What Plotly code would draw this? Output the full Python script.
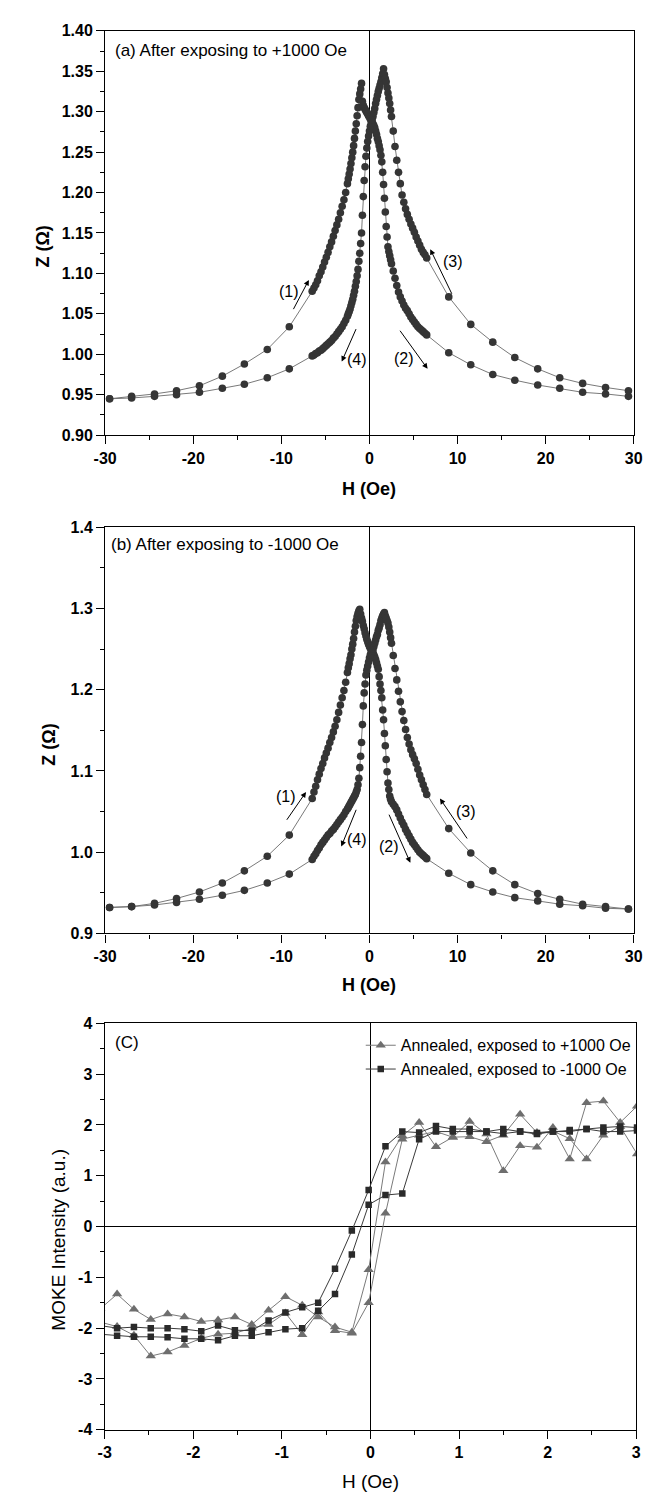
import plotly.graph_objects as go

# ---------------- data: panels (a) and (b) ----------------
H_Z = [-29.5, -27.0, -24.4, -21.9, -19.3, -16.7, -14.2, -11.6, -9.1,
       -6.5, -6.3, -6.1, -5.9, -5.7, -5.5, -5.3, -5.1, -4.9, -4.7, -4.5, -4.3, -4.1, -3.9, -3.7, -3.5, -3.3, -3.1, -2.9, -2.7,
       -2.5, -2.4, -2.3, -2.2, -2.1, -2.0, -1.9, -1.8, -1.7, -1.6, -1.5, -1.4, -1.3, -1.2, -1.1, -1.0, -0.9, -0.8, -0.7, -0.6,
       -0.5, -0.4, -0.3, -0.2, -0.1, 0.0, 0.1, 0.2, 0.3, 0.4, 0.5, 0.6, 0.7, 0.8, 0.9, 1.0, 1.1, 1.2, 1.3, 1.4,
       1.5, 1.6, 1.7, 1.8, 1.9, 2.0, 2.1, 2.2, 2.3, 2.4, 2.5,
       2.7, 2.9, 3.1, 3.3, 3.5, 3.7, 3.9, 4.1, 4.3, 4.5, 4.7, 4.9, 5.1, 5.3, 5.5, 5.7, 5.9, 6.1, 6.3, 6.5,
       9.0, 11.5, 14.0, 16.5, 19.1, 21.6, 24.2, 26.8, 29.4]

# (a) sweep -30 -> +30 : branches (1) and (2)
Z_A_UP = [0.945, 0.948, 0.951, 0.955, 0.961, 0.973, 0.988, 1.006, 1.034,
          1.078, 1.082, 1.086, 1.091, 1.097, 1.102, 1.108, 1.114, 1.120, 1.126, 1.133, 1.139, 1.146, 1.153, 1.160, 1.167, 1.175, 1.183, 1.191, 1.200,
          1.211, 1.217, 1.223, 1.229, 1.236, 1.243, 1.250, 1.258, 1.267, 1.276, 1.285, 1.295, 1.305, 1.315, 1.322, 1.328, 1.335, 1.313, 1.308, 1.305,
          1.303, 1.301, 1.299, 1.297, 1.295, 1.293, 1.291, 1.289, 1.287, 1.285, 1.283, 1.280, 1.276, 1.272, 1.267, 1.263, 1.258, 1.253, 1.246, 1.238,
          1.225, 1.210, 1.193, 1.176, 1.158, 1.145, 1.133, 1.127, 1.122, 1.117, 1.112,
          1.103, 1.094, 1.085, 1.077, 1.071, 1.066, 1.061, 1.057, 1.054, 1.050, 1.046, 1.043, 1.040, 1.037, 1.034, 1.032, 1.030, 1.028, 1.026, 1.024,
          1.002, 0.987, 0.975, 0.968, 0.962, 0.958, 0.953, 0.951, 0.948]

# (a) sweep +30 -> -30 : branches (3) and (4)
Z_A_DN = [0.945, 0.946, 0.948, 0.950, 0.953, 0.958, 0.963, 0.971, 0.982,
          0.998, 0.999, 1.001, 1.002, 1.004, 1.005, 1.007, 1.009, 1.011, 1.013, 1.015, 1.017, 1.020, 1.022, 1.025, 1.028, 1.031, 1.034, 1.038, 1.042,
          1.047, 1.050, 1.053, 1.056, 1.060, 1.064, 1.068, 1.073, 1.078, 1.084, 1.090, 1.097, 1.105, 1.115, 1.125, 1.137, 1.150, 1.172, 1.195, 1.215,
          1.232, 1.245, 1.255, 1.263, 1.270, 1.276, 1.282, 1.286, 1.290, 1.294, 1.299, 1.304, 1.310, 1.315, 1.320, 1.325, 1.329, 1.333, 1.337, 1.342,
          1.347, 1.353, 1.346, 1.341, 1.337, 1.330, 1.323, 1.317, 1.310, 1.302, 1.294,
          1.276, 1.257, 1.240, 1.225, 1.211, 1.197, 1.188, 1.180, 1.173, 1.167, 1.161, 1.156, 1.151, 1.145, 1.140, 1.135, 1.130, 1.126, 1.123, 1.119,
          1.071, 1.037, 1.015, 0.996, 0.982, 0.971, 0.964, 0.959, 0.955]

# (b) sweep -30 -> +30
Z_B_UP = [0.932, 0.933, 0.937, 0.943, 0.951, 0.962, 0.977, 0.995, 1.021,
          1.066, 1.074, 1.081, 1.089, 1.096, 1.103, 1.109, 1.116, 1.122, 1.128, 1.135, 1.141, 1.148, 1.155, 1.163, 1.172, 1.181, 1.190, 1.199, 1.209,
          1.221, 1.227, 1.232, 1.238, 1.243, 1.250, 1.256, 1.263, 1.271, 1.278, 1.285, 1.290, 1.294, 1.297, 1.299, 1.293, 1.288, 1.284, 1.279, 1.275,
          1.270, 1.266, 1.262, 1.259, 1.256, 1.253, 1.251, 1.249, 1.248, 1.246, 1.243, 1.240, 1.237, 1.233, 1.229, 1.225, 1.216, 1.207, 1.199, 1.190,
          1.175, 1.163, 1.146, 1.131, 1.114, 1.099, 1.085, 1.077, 1.069, 1.065, 1.062,
          1.059, 1.056, 1.052, 1.047, 1.042, 1.037, 1.033, 1.028, 1.024, 1.020, 1.016, 1.012, 1.009, 1.006, 1.003, 1.000, 0.998, 0.996, 0.994, 0.992,
          0.974, 0.960, 0.951, 0.944, 0.940, 0.936, 0.934, 0.931, 0.930]

# (b) sweep +30 -> -30
Z_B_DN = [0.932, 0.933, 0.935, 0.938, 0.942, 0.947, 0.953, 0.962, 0.973,
          0.991, 0.995, 0.998, 1.002, 1.005, 1.009, 1.012, 1.015, 1.018, 1.021, 1.023, 1.026, 1.028, 1.031, 1.034, 1.037, 1.040, 1.043, 1.046, 1.050,
          1.053, 1.055, 1.057, 1.059, 1.061, 1.063, 1.065, 1.067, 1.069, 1.071, 1.074, 1.077, 1.083, 1.091, 1.104, 1.118, 1.135, 1.157, 1.180, 1.196,
          1.207, 1.218, 1.224, 1.229, 1.234, 1.239, 1.243, 1.246, 1.248, 1.250, 1.253, 1.257, 1.261, 1.265, 1.268, 1.273, 1.276, 1.280, 1.285, 1.288,
          1.291, 1.293, 1.295, 1.291, 1.288, 1.285, 1.282, 1.277, 1.271, 1.264, 1.257,
          1.242, 1.226, 1.212, 1.198, 1.185, 1.173, 1.162, 1.151, 1.141, 1.133, 1.126, 1.120, 1.115, 1.109, 1.102, 1.095, 1.089, 1.083, 1.077, 1.071,
          1.029, 0.999, 0.977, 0.960, 0.949, 0.942, 0.936, 0.933, 0.930]

# ---------------- data: panel (c) ----------------
H_M = [-3.05, -2.86, -2.67, -2.48, -2.29, -2.10, -1.91, -1.72, -1.53, -1.34, -1.15, -0.96, -0.77, -0.59, -0.40, -0.21, -0.02,
       0.17, 0.36, 0.55, 0.74, 0.93, 1.12, 1.31, 1.50, 1.69, 1.88, 2.06, 2.25, 2.44, 2.63, 2.82, 3.01]
TRI_A = [-1.62, -1.33, -1.63, -1.83, -1.72, -1.78, -1.87, -1.84, -1.78, -1.93, -1.65, -1.38, -1.55, -1.78, -1.98, -2.08, -0.85,
         1.27, 1.79, 2.05, 1.57, 1.76, 2.07, 1.82, 1.10, 1.59, 1.56, 1.95, 1.33, 2.44, 2.47, 2.05, 2.37]
TRI_B = [-1.88, -1.97, -2.14, -2.55, -2.47, -2.34, -2.20, -2.12, -2.10, -2.00, -1.93, -1.70, -2.13, -1.68, -2.05, -2.10, -1.50,
         0.26, 1.72, 1.80, 1.87, 1.76, 1.77, 1.67, 1.80, 2.21, 1.85, 1.88, 1.73, 1.33, 1.80, 1.97, 1.43]
SQ_A = [-1.95, -2.00, -1.98, -2.00, -2.00, -2.02, -2.06, -1.95, -2.04, -2.05, -1.85, -1.69, -1.59, -1.50, -0.83, -0.08, 0.72,
        1.58, 1.87, 1.85, 1.98, 1.92, 1.92, 1.87, 1.92, 1.87, 1.84, 1.87, 1.90, 1.92, 1.95, 1.97, 1.95]
SQ_B = [-2.12, -2.15, -2.17, -2.17, -2.18, -2.21, -2.21, -2.24, -2.15, -2.15, -2.08, -2.02, -2.00, -1.66, -1.33, -0.55, 0.43,
        0.62, 0.65, 1.72, 1.87, 1.87, 1.87, 1.87, 1.83, 1.87, 1.82, 1.87, 1.87, 1.92, 1.87, 1.87, 1.89]

LEGEND_NAMES = ["Annealed, exposed to +1000 Oe", "Annealed, exposed to -1000 Oe"]

X_TICKS_Z = [-30, -20, -10, 0, 10, 20, 30]
Y_TICKS_A = [0.90, 0.95, 1.00, 1.05, 1.10, 1.15, 1.20, 1.25, 1.30, 1.35, 1.40]
Y_TICKS_B = [0.9, 1.0, 1.1, 1.2, 1.3, 1.4]
X_TICKS_M = [-3, -2, -1, 0, 1, 2, 3]
Y_TICKS_M = [-4, -3, -2, -1, 0, 1, 2, 3, 4]

# arrows: (tail_x, tail_y, head_x, head_y, label, label_x, label_y)
ARROWS_A = [(-8.72, 1.054, -6.88, 1.092, "(1)", -9.1, 1.078),
            (3.35, 1.031, 6.6, 0.982, "(2)", 3.9, 0.995),
            (9.43, 1.073, 6.9, 1.130, "(3)", 9.45, 1.115),
            (-1.45, 1.033, -3.15, 0.991, "(4)", -1.42, 0.994)]
ARROWS_B = [(-9.5, 1.038, -7.2, 1.074, "(1)", -9.5, 1.068),
            (2.15, 1.048, 4.64, 0.987, "(2)", 2.24, 1.007),
            (11.2, 1.015, 8.0, 1.066, "(3)", 11.0, 1.050),
            (-1.44, 1.054, -3.2, 1.007, "(4)", -1.44, 1.015)]

# ---------------- figure ----------------
W, HGT = 657, 1493
FONT = "Liberation Sans, Arial, sans-serif"


def px(x):
    return x / W


def py(y):
    return 1 - y / HGT


fig = go.Figure()


def dot_trace(x, y, xa, ya):
    return go.Scatter(x=x, y=y, xaxis=xa, yaxis=ya, mode="lines+markers",
                      line=dict(color="#6a6a6a", width=0.9),
                      marker=dict(symbol="circle", size=7.6, color="#353535"),
                      showlegend=False, hoverinfo="skip")


fig.add_trace(dot_trace(H_Z, Z_A_UP, "x", "y"))
fig.add_trace(dot_trace(H_Z, Z_A_DN, "x", "y"))
fig.add_trace(dot_trace(H_Z, Z_B_UP, "x2", "y2"))
fig.add_trace(dot_trace(H_Z, Z_B_DN, "x2", "y2"))

TRI_STYLE = dict(line=dict(color="#7a7a7a", width=1),
                 marker=dict(symbol="triangle-up", size=9, color="#6e6e6e"))
SQ_STYLE = dict(line=dict(color="#3a3a3a", width=1),
                marker=dict(symbol="square", size=6.5, color="#2a2a2a"))

fig.add_trace(go.Scatter(x=H_M, y=TRI_A, xaxis="x3", yaxis="y3", mode="lines+markers",
                         name=LEGEND_NAMES[0], showlegend=True, legendrank=1, **TRI_STYLE))
fig.add_trace(go.Scatter(x=H_M, y=TRI_B, xaxis="x3", yaxis="y3", mode="lines+markers",
                         name=LEGEND_NAMES[0], showlegend=False, **TRI_STYLE))
fig.add_trace(go.Scatter(x=H_M, y=SQ_A, xaxis="x3", yaxis="y3", mode="lines+markers",
                         name=LEGEND_NAMES[1], showlegend=True, legendrank=2, **SQ_STYLE))
fig.add_trace(go.Scatter(x=H_M, y=SQ_B, xaxis="x3", yaxis="y3", mode="lines+markers",
                         name=LEGEND_NAMES[1], showlegend=False, **SQ_STYLE))

TICKFONT = dict(family=FONT, size=16, color="black", weight="bold")


def axis_common():
    return dict(showline=True, linecolor="black", linewidth=1.3, mirror=True,
                ticks="outside", ticklen=8, tickwidth=1.2, tickcolor="black",
                showgrid=False, tickfont=TICKFONT)


def fmt(v, nd):
    return f"{v:.{nd}f}"


XDOM = [px(88), px(634)]
XDOM_C = [px(87.5), px(636.5)]

xa = axis_common()
xa.update(domain=XDOM, range=[-30, 30], anchor="y", tickmode="array",
          tickvals=X_TICKS_Z, ticktext=[fmt(v, 0) for v in X_TICKS_Z],
          zeroline=True, zerolinecolor="black", zerolinewidth=1.2,
          minor=dict(ticks="outside", ticklen=4, tickwidth=1.2, tickcolor="black", dtick=5, tick0=0, showgrid=False))
ya = axis_common()
ya.update(domain=[py(424), py(15)], range=[0.9, 1.4], anchor="x", tickmode="array",
          tickvals=Y_TICKS_A, ticktext=[fmt(v, 2) for v in Y_TICKS_A], zeroline=False,
          minor=dict(ticks="outside", ticklen=4, tickwidth=1.2, tickcolor="black", dtick=0.025, tick0=0.9, showgrid=False))

xb = axis_common()
xb.update(domain=XDOM, range=[-30, 30], anchor="y2", tickmode="array",
          tickvals=X_TICKS_Z, ticktext=[fmt(v, 0) for v in X_TICKS_Z],
          zeroline=True, zerolinecolor="black", zerolinewidth=1.2,
          minor=dict(ticks="outside", ticklen=4, tickwidth=1.2, tickcolor="black", dtick=5, tick0=0, showgrid=False))
yb = axis_common()
yb.update(domain=[py(928), py(517)], range=[0.9, 1.4], anchor="x2", tickmode="array",
          tickvals=Y_TICKS_B, ticktext=[fmt(v, 1) for v in Y_TICKS_B], zeroline=False,
          minor=dict(ticks="outside", ticklen=4, tickwidth=1.2, tickcolor="black", dtick=0.05, tick0=0.9, showgrid=False))

xc = axis_common()
xc.update(domain=XDOM_C, range=[-3, 3], anchor="y3", tickmode="array",
          tickvals=X_TICKS_M, ticktext=[fmt(v, 0) for v in X_TICKS_M],
          zeroline=True, zerolinecolor="black", zerolinewidth=1.2,
          minor=dict(ticks="outside", ticklen=4, tickwidth=1.2, tickcolor="black", dtick=0.5, tick0=0, showgrid=False))
yc = axis_common()
yc.update(domain=[py(1430), py(1019)], range=[-4, 4], anchor="x3", tickmode="array",
          tickvals=Y_TICKS_M, ticktext=[fmt(v, 0) for v in Y_TICKS_M],
          zeroline=True, zerolinecolor="black", zerolinewidth=1.4,
          minor=dict(ticks="outside", ticklen=4, tickwidth=1.2, tickcolor="black", dtick=0.5, tick0=0, showgrid=False))

annotations = []


def text_ann(x, y, text, size, bold=False, angle=0, xanchor="center"):
    annotations.append(dict(x=px(x), y=py(y), xref="paper", yref="paper", text=text, showarrow=False,
                            textangle=angle, xanchor=xanchor, yanchor="middle",
                            font=dict(family=FONT, size=size, color="black",
                                      weight="bold" if bold else "normal")))


# axis titles
text_ann(24, 233, "Z (Ω)", 18, bold=True, angle=-90)
text_ann(361, 478, "H (Oe)", 18, bold=True)
text_ann(30, 737, "Z (Ω)", 18, bold=True, angle=-90)
text_ann(361, 980, "H (Oe)", 18, bold=True)
text_ann(40, 1238, "MOKE Intensity (a.u.)", 19, angle=-90)
text_ann(362, 1482, "H (Oe)", 19)

# panel labels
text_ann(96, 35, "(a) After exposing to +1000 Oe", 17, xanchor="left")
text_ann(92, 535, "(b) After exposing to -1000 Oe", 17, xanchor="left")
text_ann(96, 1038, "(C)", 17, xanchor="left")


def add_arrows(arrows, xr, yr):
    for tx, ty, hx, hy, lab, lx, ly in arrows:
        annotations.append(dict(x=hx, y=hy, ax=tx, ay=ty, xref=xr, yref=yr, axref=xr, ayref=yr,
                                text="", showarrow=True, arrowhead=2, arrowsize=1.1, arrowwidth=1,
                                arrowcolor="black", standoff=0, startstandoff=0))
        annotations.append(dict(x=lx, y=ly, xref=xr, yref=yr, text=lab, showarrow=False,
                                xanchor="center", yanchor="middle",
                                font=dict(family=FONT, size=16, color="black")))


add_arrows(ARROWS_A, "x", "y")
add_arrows(ARROWS_B, "x2", "y2")

fig.update_layout(
    width=W, height=HGT, autosize=False,
    margin=dict(l=0, r=0, t=0, b=0),
    paper_bgcolor="white", plot_bgcolor="white",
    xaxis=xa, yaxis=ya, xaxis2=xb, yaxis2=yb, xaxis3=xc, yaxis3=yc,
    annotations=annotations,
    showlegend=True,
    legend=dict(x=px(352), y=py(1024), xanchor="left", yanchor="top",
                bgcolor="rgba(0,0,0,0)", borderwidth=0,
                font=dict(family=FONT, size=16, color="black"),
                tracegroupgap=0, itemwidth=30),
    font=dict(family=FONT, color="black"),
    hovermode=False,
)

fig.write_html("out.html")
